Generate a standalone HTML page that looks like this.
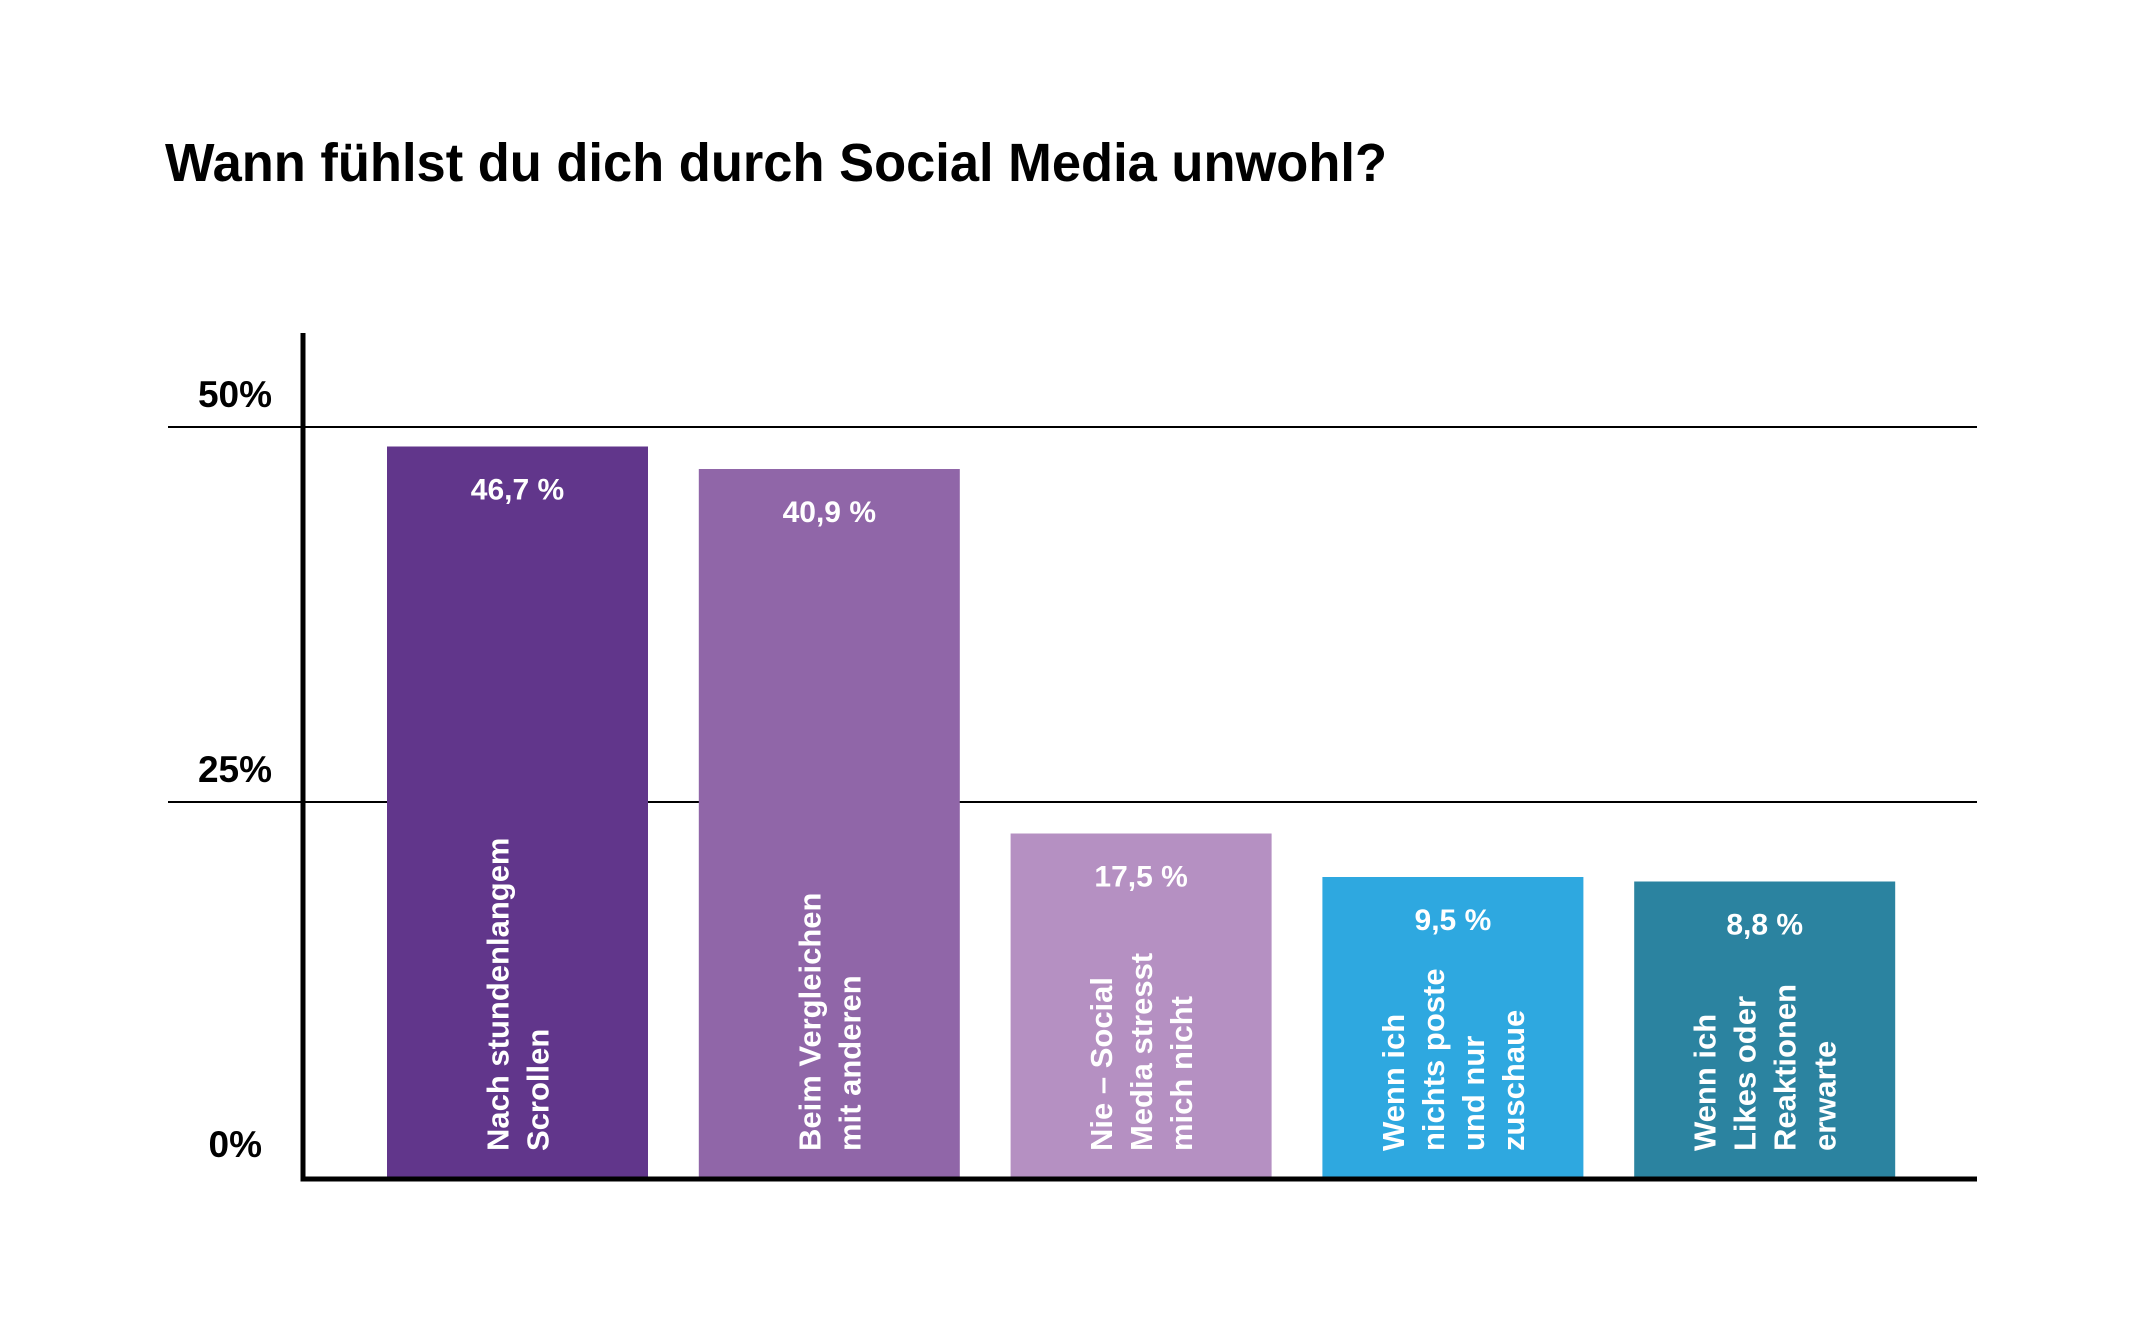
<!DOCTYPE html>
<html><head><meta charset="utf-8"><style>
html,body{margin:0;padding:0;background:#fff;}
svg{display:block;font-family:"Liberation Sans",sans-serif;font-weight:bold;}
</style></head><body>
<svg id="chart" width="2149" height="1321" viewBox="0 0 2149 1321">
<text x="165" y="181" font-size="54" textLength="1222" lengthAdjust="spacingAndGlyphs" fill="#000">Wann fühlst du dich durch Social Media unwohl?</text>
<g id="grid"></g><g id="bars"></g><g id="axes"></g>
</svg>
<script>
const categories = [["Nach stundenlangem","Scrollen"],["Beim Vergleichen","mit anderen"],["Nie – Social","Media stresst","mich nicht"],["Wenn ich","nichts poste","und nur","zuschaue"],["Wenn ich","Likes oder","Reaktionen","erwarte"]];
const values = [48.7, 47.2, 22.9, 20.0, 19.7];
const valueLabels = ["46,7 %","40,9 %","17,5 %","9,5 %","8,8 %"];
const colors = ["#61368b","#9066a8","#b590c2","#2ea8e0","#2b83a0"];
const ticks = [0, 25, 50];
const tickLabels = ["0%","25%","50%"];

const NS="http://www.w3.org/2000/svg";
const y0=1177, y50=427, xLeft=303, xRight=1977;
function yScale(v){return y0-(y0-y50)*v/50;}
const barStart=387, barStep=311.8, barW=261;
function xScale(i){return barStart+i*barStep;}
function mk(tag,attrs,parent){const e=document.createElementNS(NS,tag);for(const k in attrs)e.setAttribute(k,attrs[k]);parent.appendChild(e);return e;}
const grid=document.getElementById('grid'),bars=document.getElementById('bars'),axes=document.getElementById('axes');
ticks.forEach((t,i)=>{
  const y=yScale(t);
  if(t>0){
    const l=mk('line',{x1:168,x2:xRight,y1:y,y2:y,stroke:'#000','stroke-width':2},grid);
    
    
  }
  const tx=mk('text',{x:t===0?262:272,y:y-20,'text-anchor':'end','font-size':37,fill:'#000'},grid);
  tx.textContent=tickLabels[i];
  
  
});
values.forEach((v,i)=>{
  const x=xScale(i), yt=yScale(v), cx=x+barW/2;
  const r=mk('rect',{x:x,y:yt,width:barW,height:y0-yt,fill:colors[i]},bars);
  
  
  const vt=mk('text',{x:cx,y:yt+53,'text-anchor':'middle','font-size':30,fill:'#fff'},bars);
  vt.textContent=valueLabels[i];
  
  
  const lines=categories[i], n=lines.length;
  const by=y0-26;
  lines.forEach((ln,j)=>{
    const lx=cx+(j-(n-1)/2)*40+11;
    const t=mk('text',{x:lx,y:by,transform:'rotate(-90 '+lx+' '+by+')','font-size':31,fill:'#fff'},bars);
    t.textContent=ln;
    
    
  });
});
const ya=mk('line',{x1:xLeft,x2:xLeft,y1:333,y2:y0+4,stroke:'#000','stroke-width':5},axes);


const xa=mk('line',{x1:xLeft-2.5,x2:xRight,y1:y0+2,y2:y0+2,stroke:'#000','stroke-width':5},axes);


</script>
</body></html>
